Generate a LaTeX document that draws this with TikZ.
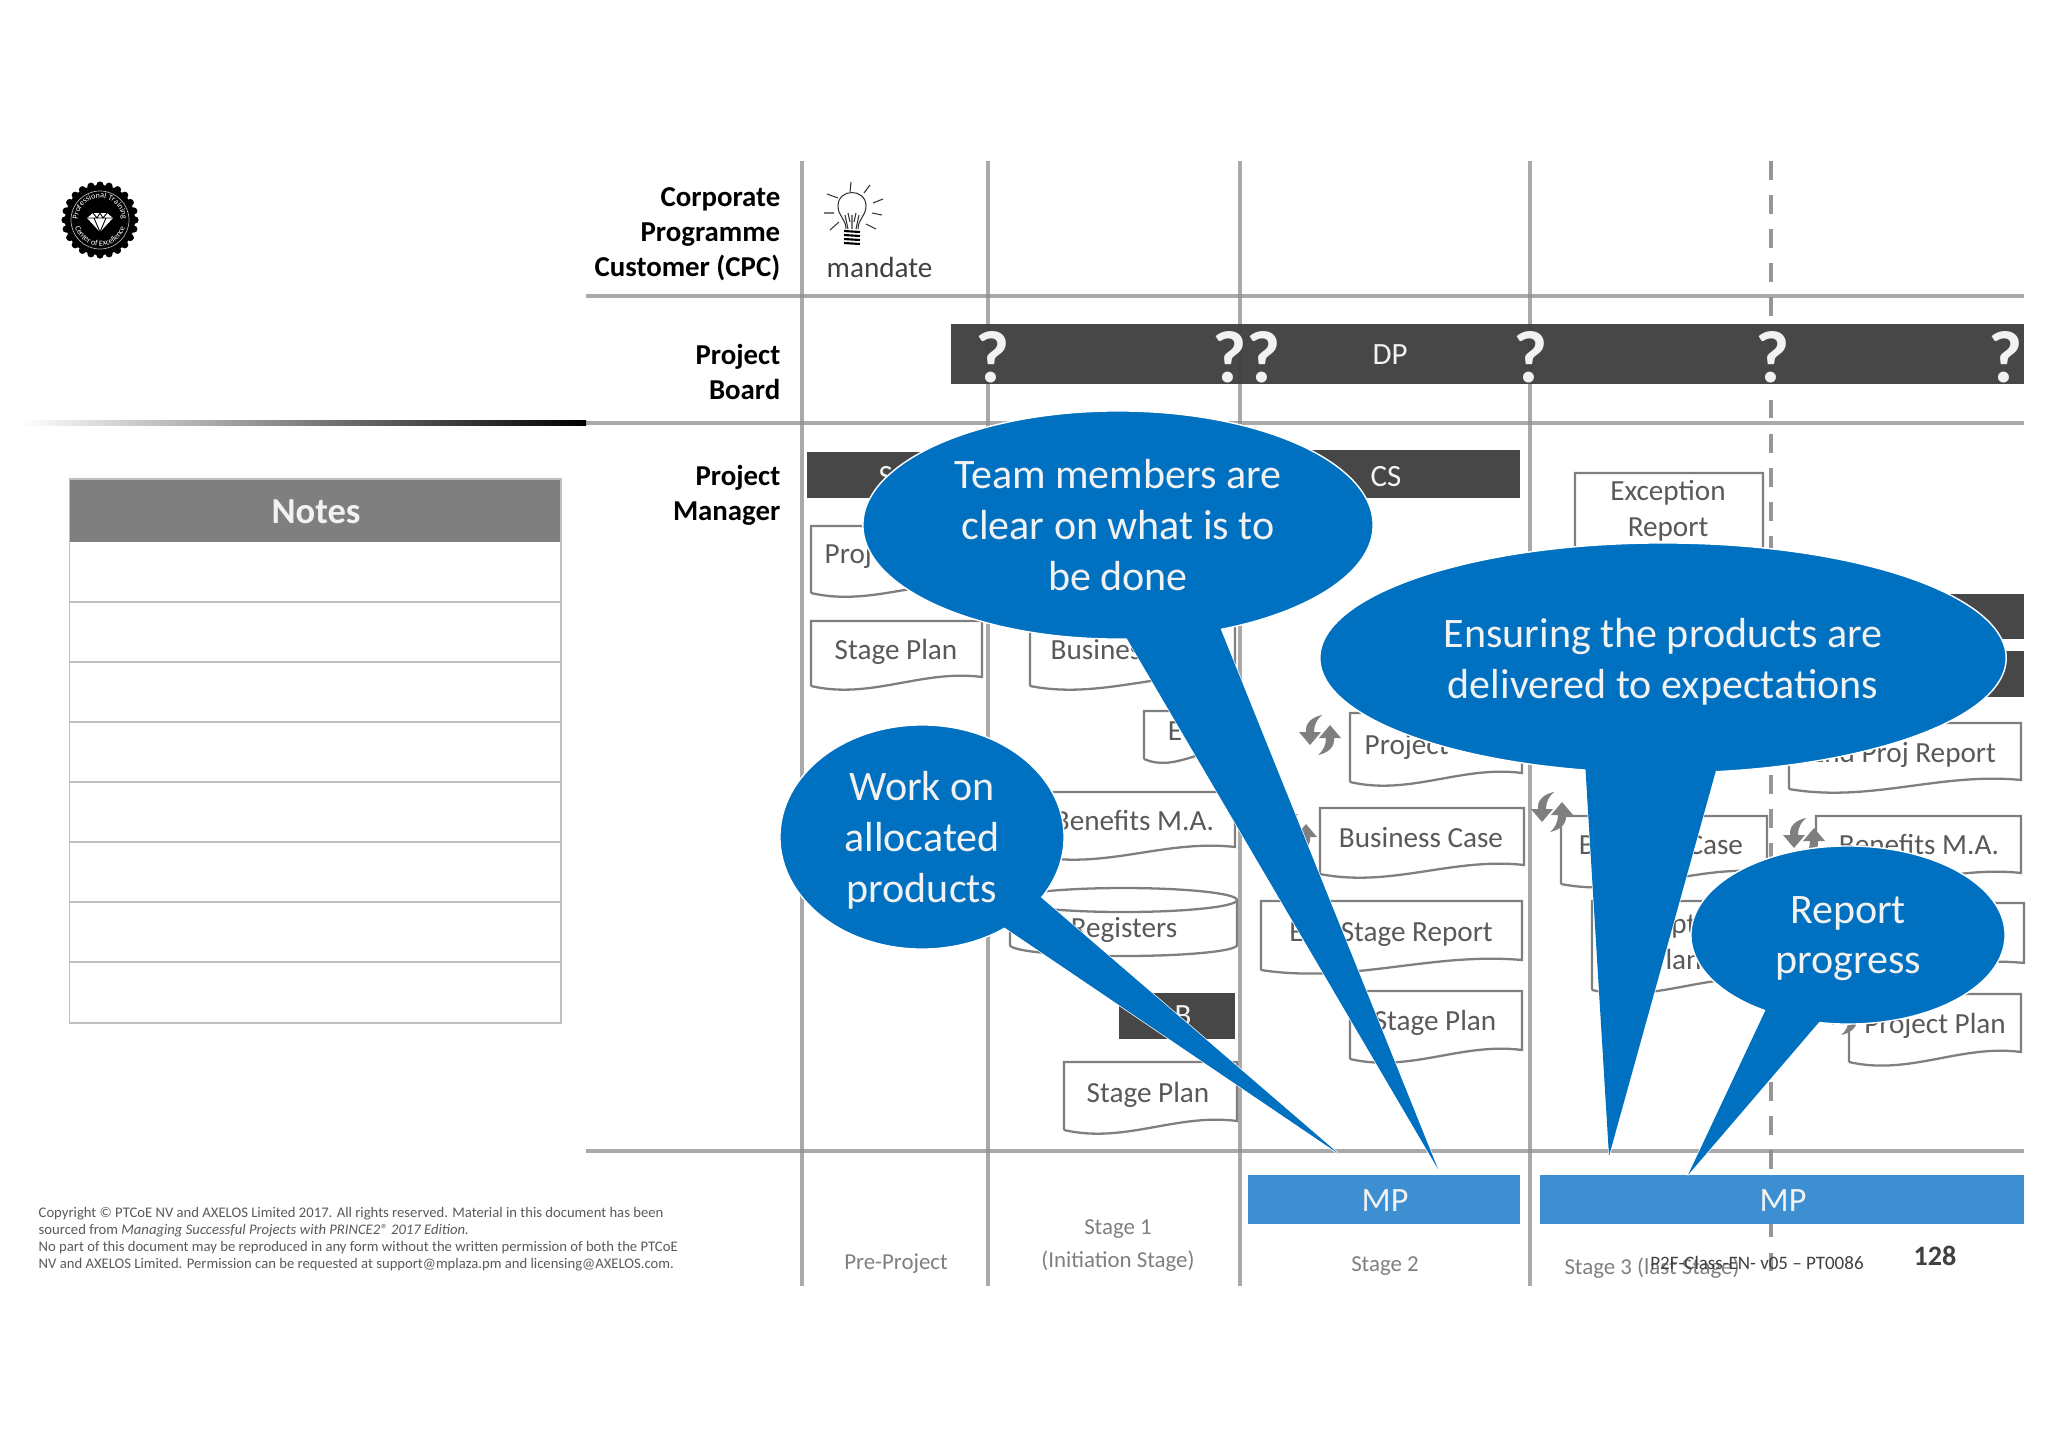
\documentclass[tikz,border=0pt]{standalone}
\usepackage{fontspec}
\setmainfont{Carlito}
\usetikzlibrary{arrows.meta,shapes.geometric,decorations.text}

\definecolor{calloutblue}{HTML}{0070C0}
\definecolor{barblue}{HTML}{3D8FD1}
\definecolor{bardark}{HTML}{404040}
\definecolor{prodgray}{HTML}{7F7F7F}
\definecolor{textgray}{HTML}{595959}

% left, top, right, right end of wave, left end of wave
\newcommand{\prodshape}[5]{%
  \pgfmathsetmacro\ctrlA{#1+0.35*(#3-#1)}%
  \pgfmathsetmacro\ctrlB{#3-0.35*(#3-#1)}%
  \draw[prodline] (#1,#5) -- (#1,#2) -- (#3,#2) -- (#3,#4)
    .. controls (\ctrlB,#4-8) and (\ctrlA,#5+14) .. (#1,#5);
}
% circular arrows round a centre
\newcommand{\cyclearrows}[2]{%
  \begin{scope}[shift={(#1,#2)}]
    \fill[prodgray] (-21,-3) -- (-10,10) -- (1,-3) -- (-6,-3) .. controls (-6,-10) and (-3,-16) .. (2,-20)
      .. controls (-8,-18) and (-15,-12) .. (-14,-3) -- cycle;
    \fill[prodgray] (21,3) -- (10,-10) -- (-1,3) -- (6,3) .. controls (6,10) and (3,16) .. (-2,20)
      .. controls (8,18) and (15,12) .. (14,3) -- cycle;
  \end{scope}
}

\begin{document}
\begin{tikzpicture}[
    x=0.01cm, y=-0.01cm,
    laneline/.style={draw=black!45, opacity=0.75, line width=1.35pt},
    prodline/.style={draw=prodgray, fill=white, line width=0.65pt},
    prodtext/.style={text=textgray, font=\fontsize{8.3}{10.2}\selectfont, inner sep=0pt, text depth=0pt},
    darkfill/.style={fill=bardark, fill opacity=0.96},
    barlabel/.style={text=white!95!black, font=\fontsize{8.8}{10}\selectfont, inner sep=0pt, text depth=0pt},
    role/.style={align=right, anchor=east, inner sep=0pt, font=\bfseries\fontsize{8.2}{10}\selectfont},
    stagelabel/.style={text=prodgray, font=\fontsize{6.5}{9}\selectfont, inner sep=0pt, text depth=0pt},
    query/.style={text=white!95!black, inner sep=0pt, font=\bfseries\fontsize{21}{22}\selectfont},
    callout/.style={ellipse, draw=white, line width=0.4pt, fill=calloutblue, inner sep=0pt, align=center,
      text=white!95!black, font=\fontsize{11.95}{14.5}\selectfont, text depth=0pt},
    spike/.style={draw=white, line width=0.4pt, fill=calloutblue, line join=round},
    spikefill/.style={fill=calloutblue}
]
\useasboundingbox (0,0) rectangle (2048,1448);

% swim lanes
\foreach \xlane in {802,988,1240,1530}
  \draw[laneline] (\xlane,161) -- (\xlane,1286);
\draw[laneline, draw=black!55, line width=1pt, dash pattern=on 5.3pt off 4.4pt] (1771,161) -- (1771,1286);
\foreach \ylane in {296,423,1151}
  \draw[laneline] (586,\ylane) -- (2024,\ylane);
\shade[left color=white, middle color=black!80, right color=black] (20,420.5) rectangle (586,425.5);

% logo
\fill[black] (100,220) circle[radius=35];
\foreach \aseal in {0,15,...,345}
  \fill[black] (100,220) ++(\aseal:35) circle[radius=3.6];
\draw[white!70!black, line width=0.2pt] (100,220) circle[radius=29];
\fill[white] (87,218) -- (93,213) -- (107,213) -- (113,218) -- (100,232) -- cycle;
\draw[black, line width=0.25pt] (87,218) -- (113,218) (94,218) -- (100,232) -- (106,218) (93,213) -- (97,218) -- (100,213) -- (103,218) -- (107,213);
\begin{scope}[transform canvas={shift={(100,220)}, scale=0.2}]
  \path[postaction={decorate, decoration={text along path, text align=center,
      text={|\fontsize{11.5}{14}\selectfont\color{white}|Professional Training}}}]
    (-106.25,28.47) arc[start angle=165, end angle=375, radius=110];
  \path[postaction={decorate, decoration={text along path, text align=center,
      text={|\fontsize{11.5}{14}\selectfont\color{white}|Center of Excellence}}}]
    (-128,22.57) arc[start angle=170, end angle=10, radius=130];
\end{scope}

% notes panel
\fill[prodgray] (69.5,479) rectangle (561,542);
\draw[black!25, line width=0.4pt] (69.5,479) rectangle (561,1023);
\foreach \yrow in {602,662,...,962}
  \draw[black!25, line width=0.4pt] (69.5,\yrow) -- (561,\yrow);
\node[text=white!95!black, inner sep=0pt, font=\bfseries\fontsize{10.4}{12}\selectfont] (notes) at (316,512) {Notes};

% roles
\node[role] (cpc) at (781,234) {Corporate\\Programme\\Customer (CPC)};
\node[role] (board) at (781,372) {Project\\Board};
\node[role] (pm) at (781,495) {Project\\Manager};

% mandate
\draw[black!80, line width=0.3pt] (846,229) .. controls (846,219) and (838,216) .. (838,206)
  .. controls (838,188) and (866,188) .. (866,206) .. controls (866,216) and (858,219) .. (858,229);
\draw[black!80, line width=0.3pt] (848,229) -- (845,215) (852,229) -- (852,215) (856,229) -- (859,215)
  (850,222) -- (848,213) (854,222) -- (856,213);
\foreach \yscrew in {231,235,239,243}
  \draw[black, line width=0.6pt] (844,\yscrew) -- (860,\yscrew+1);
\draw[black!80, line width=0.3pt] (850,192) -- (851,182) (864,193) -- (870,185) (873,203) -- (883,199)
  (872,213) -- (882,215) (866,224) -- (876,229) (839,222) -- (830,230) (834,213) -- (824,213) (838,198) -- (827,194);
\node[text=bardark, inner sep=0pt, font=\fontsize{8.3}{10}\selectfont, anchor=west, text depth=0pt] (mandate) at (826,267) {mandate};

% directing bar
\fill[darkfill] (951,324) rectangle (2024,384);
\node[barlabel] (dp) at (1390,355) {DP};
\foreach \xquery/\nquery in {993/qa,1230/qb,1264/qc,1531/qd,1773/qe,2006/qf}
  \node[query] (\nquery) at (\xquery,357) {?};

% dark bars
\fill[darkfill] (807,452) rectangle (990,498);
\node[barlabel, anchor=west] (su) at (878,476) {S};
\fill[darkfill] (1250,450) rectangle (1520,498);
\node[barlabel] (cs) at (1386,476) {CS};
\fill[darkfill] (1800,594) rectangle (2024,639);
\fill[darkfill] (1800,651) rectangle (2024,697);
\fill[darkfill] (1119,993) rectangle (1235,1039);
\node[barlabel] (sb) at (1183,1016) {B};

% pre-project and stage 1 products
\prodshape{811}{526}{983}{585}{593}
\node[prodtext, anchor=west] (brief) at (824,553) {Proj};
\prodshape{811}{621}{982}{677}{686}
\node[prodtext] (planpre) at (896,649) {Stage Plan};
\prodshape{1030}{621}{1235}{677}{686}
\node[prodtext, anchor=west] (bcinit) at (1050,649) {Busines};
\prodshape{1144}{711}{1236}{752}{759}
\node[prodtext] (einit) at (1175,731) {E};
\prodshape{1035}{792}{1235}{847}{856}
\node[prodtext] (bminit) at (1134,820) {Benefits M.A.};
% registers
\draw[prodline] (1010,900) -- (1010,945) arc[start angle=180, end angle=0, x radius=113.5, y radius=11] -- (1237,900);
\draw[prodline] (1123.5,900) ellipse[x radius=113.5, y radius=12];
\node[prodtext] (registers) at (1124,927) {Registers};
\prodshape{1064}{1062}{1237}{1121}{1130}
\node[prodtext] (planinit) at (1148,1092) {Stage Plan};

% stage 2 products
\prodshape{1350}{713}{1522}{773}{782}
\node[prodtext, anchor=west] (pjstwo) at (1364,744) {Project};
\prodshape{1320}{808}{1524}{865}{874}
\node[prodtext] (bcstwo) at (1421,837) {Business Case};
\prodshape{1261}{901}{1522}{960}{970}
\node[prodtext] (esrstwo) at (1391,931) {End Stage Report};
\prodshape{1350}{991}{1522}{1050}{1059}
\node[prodtext] (planstwo) at (1435,1020) {Stage Plan};

% stage 3 products
\prodshape{1575}{473}{1763}{590}{600}
\node[prodtext, align=center] (except) at (1668,508) {Exception\\Report};
\prodshape{1561}{816}{1767}{872}{884}
\node[prodtext] (bcsthree) at (1661,844) {Business Case};
\prodshape{1592}{901}{1767}{980}{990}
\node[prodtext, align=center] (explan) at (1676,941) {Exception\\Plan};
\prodshape{1789}{723}{2021}{780}{789}
\node[prodtext] (epr) at (1903,752) {End Proj Report};
\prodshape{1816}{816}{2021}{873}{882}
\node[prodtext] (bmsthree) at (1919,844) {Benefits M.A.};
\prodshape{1800}{903}{2024}{963}{972}
\prodshape{1849}{994}{2021}{1052}{1062}
\node[prodtext] (ppsthree) at (1935,1023) {Project Plan};

% update arrows
\cyclearrows{1320}{735}
\cyclearrows{1552}{812}
\cyclearrows{1804}{838}
\cyclearrows{1296}{834}
\cyclearrows{1843}{1015}

% managing product delivery
\fill[barblue] (1248,1175) rectangle (1520,1224);
\fill[barblue] (1540,1175) rectangle (2024,1224);
\node[barlabel, font=\fontsize{9.7}{10}\selectfont] (mpa) at (1385,1201) {MP};
\node[barlabel, font=\fontsize{9.7}{10}\selectfont] (mpb) at (1783,1201) {MP};

% stage names
\node[stagelabel] (pre) at (896,1262) {Pre-Project};
\node[stagelabel] (sone) at (1118,1227) {Stage 1};
\node[stagelabel] (stwo) at (1118,1259) {(Initiation Stage)};
\node[stagelabel] (sthree) at (1385,1264) {Stage 2};
\node[stagelabel] (sfour) at (1652,1266) {Stage 3 (last Stage)};
\node[text=bardark, inner sep=0pt, font=\fontsize{5.4}{7}\selectfont] (docid) at (1757,1263) {P2F-Class-EN- v05 -- PT0086};
\node[text=bardark, inner sep=0pt, font=\bfseries\fontsize{8}{9}\selectfont] (pageno) at (1935,1256) {128};

% copyright
\node[anchor=north west, inner sep=0pt, text=textgray, align=left, font=\fontsize{4.17}{4.84}\selectfont] (copyright) at (38,1206.5)
  {Copyright © PTCoE NV and AXELOS Limited 2017. All rights reserved. Material in this document has been\\
   sourced from \textit{Managing Successful Projects with PRINCE2® 2017 Edition.}\\
   No part of this document may be reproduced in any form without the written permission of both the PTCoE\\
   NV and AXELOS Limited. Permission can be requested at support@mplaza.pm and licensing@AXELOS.com.};

% callouts
\coordinate (worktip) at (1339,1154);
\coordinate (worka) at (1030,888);
\coordinate (workb) at (992,919);
\draw[spike] (worktip) -- (worka) -- (workb) -- cycle;
\node[callout, minimum width=2.84cm, minimum height=2.24cm] (work) at (922,837) {Work on\\allocated\\products};
\fill[spikefill] (worktip) -- (worka) -- (workb) -- cycle;

\coordinate (teamtip) at (1438,1169);
\coordinate (teama) at (1116,620);
\coordinate (teamb) at (1217,620);
\draw[spike] (teamtip) -- (teama) -- (teamb) -- cycle;
\node[callout, minimum width=5.1cm, minimum height=2.28cm] (team) at (1118,525) {Team members are\\clear on what is to\\be done};
\fill[spikefill] (teamtip) -- (teama) -- (teamb) -- cycle;

\coordinate (ensuretip) at (1609,1156);
\coordinate (ensurea) at (1584,745);
\coordinate (ensureb) at (1723,745);
\draw[spike] (ensuretip) -- (ensurea) -- (ensureb) -- cycle;
\node[callout, minimum width=6.86cm, minimum height=2.3cm] (ensure) at (1663,658) {Ensuring the products are\\delivered to expectations};
\fill[spikefill] (ensuretip) -- (ensurea) -- (ensureb) -- cycle;

\coordinate (reporttip) at (1688,1175);
\coordinate (reporta) at (1775,990);
\coordinate (reportb) at (1838,1000);
\draw[spike] (reporttip) -- (reporta) -- (reportb) -- cycle;
\node[callout, minimum width=3.14cm, minimum height=1.78cm] (report) at (1848,935) {Report\\progress};
\fill[spikefill] (reporttip) -- (reporta) -- (reportb) -- cycle;
\end{tikzpicture}
\end{document}
